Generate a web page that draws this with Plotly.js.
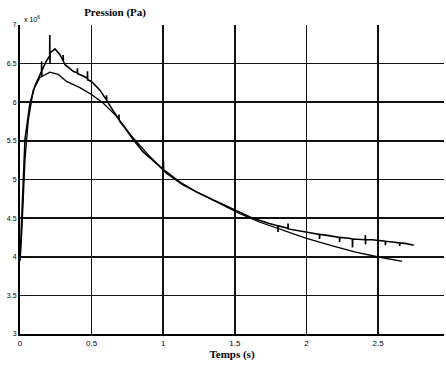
<!DOCTYPE html>
<html>
<head>
<meta charset="utf-8">
<script src="https://cdn.plot.ly/plotly-3.0.1.min.js"></script>
<style>html,body{margin:0;padding:0;background:#fff;}#chart{width:446px;height:366px;}</style>
</head>
<body>
<div id="chart"></div>
<script>
var measTime = [0, 0.012, 0.035, 0.07, 0.104, 0.15, 0.151, 0.152, 0.153, 0.18, 0.207, 0.208, 0.209, 0.211, 0.244, 0.278, 0.30, 0.301, 0.303, 0.313, 0.371, 0.40, 0.401, 0.403, 0.441, 0.47, 0.471, 0.473, 0.499, 0.557, 0.603, 0.604, 0.606, 0.661, 0.69, 0.691, 0.693, 0.731, 0.789, 0.858, 0.951, 1.0, 1.001, 1.003, 1.021, 1.114, 1.23, 1.346, 1.485, 1.624, 1.74, 1.80, 1.801, 1.803, 1.87, 1.871, 1.873, 1.995, 2.09, 2.091, 2.093, 2.135, 2.23, 2.231, 2.233, 2.297, 2.32, 2.321, 2.323, 2.41, 2.411, 2.412, 2.414, 2.459, 2.55, 2.551, 2.553, 2.599, 2.65, 2.651, 2.653, 2.70, 2.749];
var measPressure = [3.95, 4.48, 5.52, 5.99, 6.21, 6.40, 6.53, 6.33, 6.41, 6.52, 6.60, 6.87, 6.50, 6.64, 6.69, 6.62, 6.54, 6.61, 6.53, 6.49, 6.40, 6.38, 6.44, 6.37, 6.34, 6.31, 6.40, 6.29, 6.27, 6.16, 6.03, 6.09, 6.02, 5.86, 5.78, 5.84, 5.76, 5.67, 5.52, 5.36, 5.21, 5.13, 5.24, 5.12, 5.10, 4.97, 4.84, 4.74, 4.61, 4.50, 4.43, 4.40, 4.32, 4.40, 4.37, 4.43, 4.36, 4.32, 4.29, 4.23, 4.29, 4.28, 4.25, 4.19, 4.25, 4.24, 4.23, 4.12, 4.23, 4.22, 4.28, 4.16, 4.22, 4.22, 4.20, 4.15, 4.20, 4.19, 4.18, 4.14, 4.18, 4.17, 4.15];
// Model pressure (x 1e6 Pa)
var modelTime = [0, 0.012, 0.035, 0.058, 0.093, 0.139, 0.209, 0.267, 0.325, 0.418, 0.499, 0.580, 0.673, 0.789, 0.905, 1.021, 1.137, 1.253, 1.392, 1.531, 1.671, 1.833, 1.995, 2.181, 2.343, 2.494, 2.668];
var modelPressure = [3.95, 4.30, 5.26, 5.77, 6.16, 6.32, 6.39, 6.36, 6.27, 6.19, 6.10, 5.99, 5.82, 5.54, 5.30, 5.08, 4.93, 4.82, 4.69, 4.56, 4.45, 4.35, 4.24, 4.14, 4.06, 4.00, 3.94];
var xTicks = [0, 0.5, 1, 1.5, 2, 2.5];
var xTickLabels = ['0', '0.5', '1', '1.5', '2', '2.5'];
var yTicks = [3, 3.5, 4, 4.5, 5, 5.5, 6, 6.5, 7];
var yTickLabels = ['3', '3.5', '4', '4.5', '5', '5.5', '6', '6.5', '7'];

var traces = [
  {x: modelTime, y: modelPressure, mode: 'lines', line: {color: '#000', width: 1.3}, hoverinfo: 'skip'},
  {x: measTime, y: measPressure, mode: 'lines', line: {color: '#000', width: 1.6}, hoverinfo: 'skip'}
];

var layout = {
  width: 446, height: 366,
  margin: {l: 20, r: 2, t: 25, b: 32},
  paper_bgcolor: '#fff', plot_bgcolor: '#fff',
  showlegend: false,
  font: {family: 'Liberation Sans, Arial, sans-serif', size: 8, color: '#000'},
  title: {text: '<b>Pression (Pa)</b>', x: 0.258, xanchor: 'center', y: 0.967, yanchor: 'middle',
          font: {family: 'Liberation Serif, Times New Roman, serif', size: 11, color: '#000'}},
  xaxis: {
    range: [0, 2.96], tickvals: xTicks, ticktext: xTickLabels,
    showgrid: true, gridcolor: '#111', gridwidth: 1.5,
    zeroline: false, showline: true, linecolor: '#000', linewidth: 2,
    ticks: '', ticklen: 0, tickfont: {size: 8},
    title: {text: '<b>Temps (s)</b>', standoff: 2, font: {family: 'Liberation Serif, Times New Roman, serif', size: 11, color: '#000'}}
  },
  yaxis: {
    range: [3, 7], tickvals: yTicks, ticktext: yTickLabels,
    showgrid: true, gridcolor: '#111', gridwidth: 1.6,
    zeroline: false, showline: true, linecolor: '#000', linewidth: 2,
    ticks: '', ticklen: 0, tickfont: {size: 7}
  },
  annotations: [
    {xref: 'paper', yref: 'paper', x: 0.005, y: 1.0, xanchor: 'left', yanchor: 'bottom',
     text: 'x 10<sup>6</sup>', showarrow: false, font: {size: 7, color: '#000'}}
  ]
};

Plotly.newPlot('chart', traces, layout, {displayModeBar: false, staticPlot: true});
</script>
</body>
</html>
